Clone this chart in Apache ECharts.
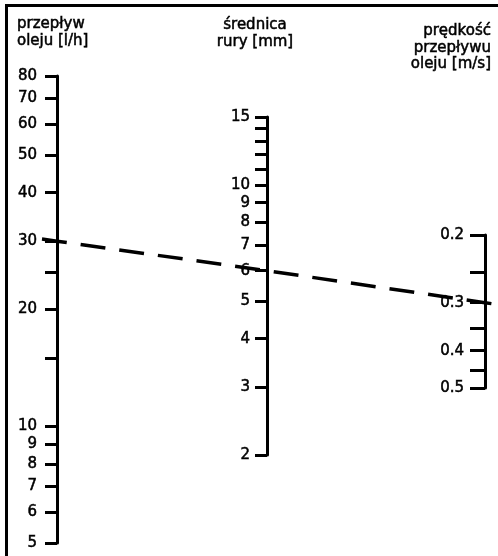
<!DOCTYPE html>
<html>
<head>
<meta charset="utf-8">
<script src="https://cdn.jsdelivr.net/npm/echarts@6/dist/echarts.min.js"></script>
<style>
html,body{margin:0;padding:0;background:#fff;}
#chart{width:498px;height:556px;}
</style>
</head>
<body>
<div id="chart"></div>
<script>
// ---- data ----
const flowTicks = [5, 6, 7, 8, 9, 10, 15, 20, 25, 30, 40, 50, 60, 70, 80];
const flowLabels = [5, 6, 7, 8, 9, 10, 20, 30, 40, 50, 60, 70, 80];
const diamTicks = [2, 3, 4, 5, 6, 7, 8, 9, 10, 11, 12, 13, 14, 15];
const diamLabels = [2, 3, 4, 5, 6, 7, 8, 9, 10, 15];
const speedTicks = [0.2, 0.25, 0.3, 0.35, 0.4, 0.45, 0.5];
const speedLabels = [0.2, 0.3, 0.4, 0.5];
const titles = ['przepływ\noleju [l/h]', 'średnica\nrury [mm]', 'prędkość\nprzepływu\noleju [m/s]'];
const exampleFlow = 30;
const exampleDiam = 6;
const exampleSpeed = 0.3;

const chart = echarts.init(document.getElementById('chart'), null, {renderer: 'canvas'});
const FONT = 'DejaVu Sans';
const ink = '#000';

function makeY(idx, min, max, ticks, labels, margin, tickLen, inverse) {
  return {
    type: 'log', logBase: 10, gridIndex: idx, min: min, max: max, inverse: !!inverse,
    position: 'left',
    axisLine: {show: true, lineStyle: {color: ink, width: 3}},
    axisTick: {show: true, length: tickLen, customValues: ticks, lineStyle: {color: ink, width: 3}},
    axisLabel: {show: true, customValues: labels, margin: margin,
      fontFamily: FONT, fontSize: 15, color: ink,
      textBorderColor: ink, textBorderWidth: 0.5,
      formatter: v => String(v)},
    splitLine: {show: false}
  };
}
function makeX(idx) {
  return {type: 'value', gridIndex: idx, min: 0, max: 1, show: false};
}
function titleText(i, x, y, align, lh) {
  return {type: 'text', x: x, y: y, style: {text: titles[i], font: '15px "DejaVu Sans"', lineHeight: lh,
    fill: ink, stroke: ink, lineWidth: 0.5, textAlign: align, textVerticalAlign: 'top'}};
}

const option = {
  animation: false,
  backgroundColor: '#fff',
  grid: [
    {left: 57, top: 76, height: 467, width: 10},
    {left: 267, top: 117, height: 338, width: 10},
    {left: 485, top: 235, height: 153, width: 10}
  ],
  xAxis: [makeX(0), makeX(1), makeX(2)],
  yAxis: [
    makeY(0, 5, 80, flowTicks, flowLabels, 20, 12),
    makeY(1, 2, 15, diamTicks, diamLabels, 17, 12),
    makeY(2, 0.2, 0.5, speedTicks, speedLabels, 21, 15, true)
  ],
  graphic: [
    {type: 'line', shape: {x1: 6.5, y1: 5.5, x2: 498, y2: 5.5}, style: {stroke: ink, lineWidth: 3}},
    {type: 'line', shape: {x1: 6.5, y1: 4, x2: 6.5, y2: 556}, style: {stroke: ink, lineWidth: 3}},
    titleText(0, 17, 16, 'left', 17),
    titleText(1, 255, 17, 'center', 17),
    titleText(2, 491, 23, 'right', 16.5)
  ],
  series: [{
    type: 'custom',
    coordinateSystem: 'cartesian2d',
    xAxisIndex: 0, yAxisIndex: 0,
    clip: false,
    data: [[0, exampleFlow]],
    renderItem: function (params, api) {
      const p1 = [chart.convertToPixel({xAxisIndex: 0}, 0), chart.convertToPixel({yAxisIndex: 0}, exampleFlow)];
      const p2 = [chart.convertToPixel({xAxisIndex: 1}, 0), chart.convertToPixel({yAxisIndex: 1}, exampleDiam)];
      const p3 = [chart.convertToPixel({xAxisIndex: 2}, 0), chart.convertToPixel({yAxisIndex: 2}, exampleSpeed)];
      const sL = (p2[1] - p1[1]) / (p2[0] - p1[0]);
      const sR = (p3[1] - p2[1]) / (p3[0] - p2[0]);
      const x0 = p1[0] - 15;
      const xE = chart.getWidth();
      const p0 = [x0, p1[1] - sL * 15];
      const pE = [xE, p3[1] + sR * (xE - p3[0])];
      return {
        type: 'polyline',
        shape: {points: [p0, p1, p2, p3, pE]},
        style: {stroke: ink, lineWidth: 3.5, fill: null, lineDash: [25, 14]}
      };
    }
  }]
};
chart.setOption(option);
</script>
</body>
</html>
